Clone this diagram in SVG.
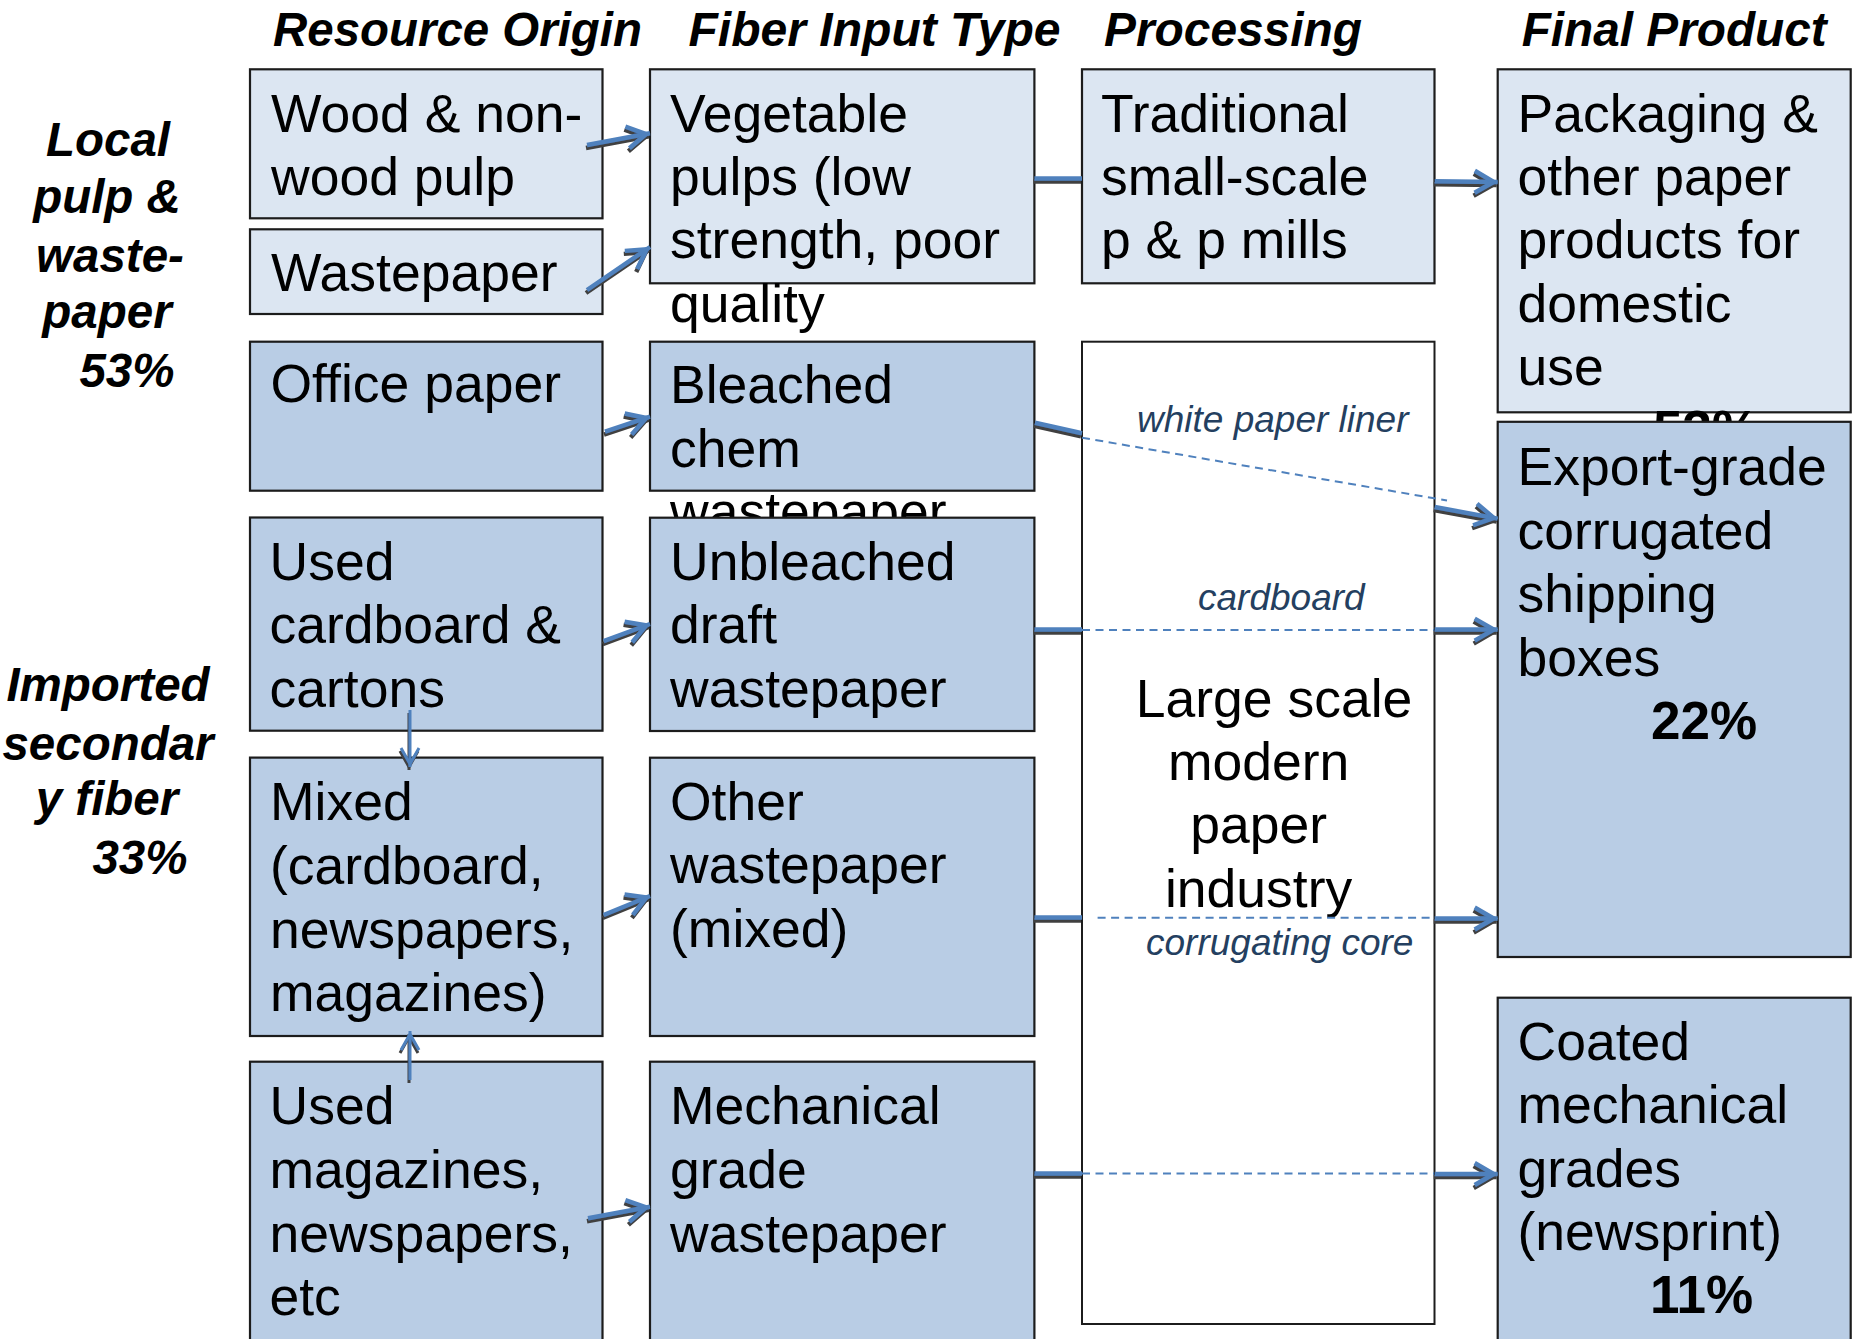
<svg xmlns="http://www.w3.org/2000/svg" width="1854" height="1339" viewBox="0 0 1854 1339">
<style>
.bl{fill:#DCE6F2;stroke:#1c1c1c;stroke-width:2.2}
.bd{fill:#B9CDE5;stroke:#1c1c1c;stroke-width:2.2}
.bw{fill:#ffffff;stroke:#1c1c1c;stroke-width:2}
text{font-family:"Liberation Sans",Arial,sans-serif;fill:#000}
.t{font-size:53.5px}
.pct{font-size:53px;font-weight:bold}
.hdr{font-size:47.5px;font-weight:bold;font-style:italic}
.side{font-size:47.5px;font-weight:bold;font-style:italic}
.lbl{font-size:37px;font-style:italic;fill:#243F60}
.c{stroke:#4F81BD;stroke-width:4.5;fill:none}
.cv{stroke:#4F81BD;stroke-width:3;fill:none}
.d{stroke:#4F81BD;stroke-width:2;stroke-dasharray:8 5.5;fill:none}
</style>
<defs>
<marker id="ah" markerUnits="userSpaceOnUse" viewBox="-30 -20 40 40" markerWidth="40" markerHeight="40" refX="0" refY="0" orient="auto" overflow="visible">
<path d="M-23,-11 L-4,0 L-23,11" fill="none" stroke="#4F81BD" stroke-width="4.5"/>
</marker>
<marker id="ahs" markerUnits="userSpaceOnUse" viewBox="-30 -20 40 40" markerWidth="40" markerHeight="40" refX="0" refY="0" orient="auto" overflow="visible">
<path d="M-19,-9 L-3,0 L-19,9" fill="none" stroke="#4F81BD" stroke-width="3"/>
</marker>
<filter id="sh" filterUnits="userSpaceOnUse" x="0" y="0" width="1854" height="1339">
<feDropShadow dx="-1" dy="3" stdDeviation="0.3" flood-color="#3F3F3F" flood-opacity="1"/>
</filter>
</defs>
<rect width="1854" height="1339" fill="#ffffff"/>

<g id="headers">
<text class="hdr" x="273" y="46" textLength="369" lengthAdjust="spacingAndGlyphs">Resource Origin</text>
<text class="hdr" x="688.5" y="46" textLength="372" lengthAdjust="spacingAndGlyphs">Fiber Input Type</text>
<text class="hdr" x="1104" y="46" textLength="258" lengthAdjust="spacingAndGlyphs">Processing</text>
<text class="hdr" x="1521.7" y="46" textLength="305" lengthAdjust="spacingAndGlyphs">Final Product</text>
</g>

<g id="side-local">
<text class="side" x="108" y="156" text-anchor="middle">Local</text>
<text class="side" x="107" y="213.3" text-anchor="middle">pulp &amp;</text>
<text class="side" x="110" y="271.7" text-anchor="middle">waste-</text>
<text class="side" x="107" y="328.3" text-anchor="middle">paper</text>
<text class="side" x="127" y="386.7" text-anchor="middle">53%</text>
</g>
<g id="side-imported">
<text class="side" x="108" y="701.4" text-anchor="middle">Imported</text>
<text class="side" x="108" y="760" text-anchor="middle">secondar</text>
<text class="side" x="107" y="815" text-anchor="middle">y fiber</text>
<text class="side" x="140" y="873.6" text-anchor="middle">33%</text>
</g>

<g id="wood">
<rect class="bl" x="250" y="69.3" width="352.5" height="149"/>
<text class="t" x="271" y="131.7">Wood &amp; non-</text>
<text class="t" x="271" y="195">wood pulp</text>
</g>
<g id="wastepaper">
<rect class="bl" x="250" y="229.3" width="352.5" height="84.7"/>
<text class="t" x="271" y="291">Wastepaper</text>
</g>
<g id="vegetable">
<rect class="bl" x="650" y="69.3" width="384.4" height="214"/>
<text class="t" x="670" y="131.7">Vegetable</text>
<text class="t" x="670" y="195">pulps (low</text>
<text class="t" x="670" y="258.3">strength, poor</text>
<text class="t" x="670" y="321.6">quality</text>
</g>
<g id="traditional">
<rect class="bl" x="1082" y="69.3" width="352.5" height="214"/>
<text class="t" x="1101" y="131.7">Traditional</text>
<text class="t" x="1101" y="195">small-scale</text>
<text class="t" x="1101" y="258.3">p &amp; p mills</text>
</g>
<g id="packaging">
<rect class="bl" x="1497.7" y="69.3" width="353" height="343"/>
<text class="t" x="1517.5" y="131.7">Packaging &amp;</text>
<text class="t" x="1517.5" y="195">other paper</text>
<text class="t" x="1517.5" y="258.3">products for</text>
<text class="t" x="1517.5" y="321.6">domestic</text>
<text class="t" x="1517.5" y="385">use</text>
<text class="pct" x="1653" y="448.3">53%</text>
</g>

<g id="office">
<rect class="bd" x="250" y="341.7" width="352.5" height="149"/>
<text class="t" x="270.5" y="401.7">Office paper</text>
</g>
<g id="bleached">
<rect class="bd" x="650" y="341.7" width="384.4" height="149"/>
<text class="t" x="670" y="403.3">Bleached</text>
<text class="t" x="670" y="466.7">chem</text>
<text class="t" x="670" y="530">wastepaper</text>
</g>
<g id="large-scale">
<rect class="bw" x="1082" y="341.7" width="352.5" height="982.3"/>
<text class="t" x="1274" y="716.7" text-anchor="middle">Large scale</text>
<text class="t" x="1258.6" y="780" text-anchor="middle">modern</text>
<text class="t" x="1258.6" y="843.3" text-anchor="middle">paper</text>
<text class="t" x="1258.6" y="906.7" text-anchor="middle">industry</text>
</g>
<g id="export">
<rect class="bd" x="1497.7" y="421.8" width="353" height="535.2"/>
<text class="t" x="1517.5" y="485">Export-grade</text>
<text class="t" x="1517.5" y="548.5">corrugated</text>
<text class="t" x="1517.5" y="612">shipping</text>
<text class="t" x="1517.5" y="675.5">boxes</text>
<text class="pct" x="1651" y="739">22%</text>
</g>

<g id="used-cardboard">
<rect class="bd" x="250" y="517.5" width="352.5" height="213.2"/>
<text class="t" x="269.5" y="580">Used</text>
<text class="t" x="269.5" y="643">cardboard &amp;</text>
<text class="t" x="269.5" y="706.6">cartons</text>
</g>
<g id="unbleached">
<rect class="bd" x="650" y="517.7" width="384.4" height="213.3"/>
<text class="t" x="670" y="580">Unbleached</text>
<text class="t" x="670" y="643.3">draft</text>
<text class="t" x="670" y="706.7">wastepaper</text>
</g>

<g id="mixed">
<rect class="bd" x="250" y="757.6" width="352.5" height="278.4"/>
<text class="t" x="270" y="820.2">Mixed</text>
<text class="t" x="270" y="884">(cardboard,</text>
<text class="t" x="270" y="947.7">newspapers,</text>
<text class="t" x="270" y="1011.4">magazines)</text>
</g>
<g id="other">
<rect class="bd" x="650" y="757.7" width="384.4" height="278.3"/>
<text class="t" x="670" y="820">Other</text>
<text class="t" x="670" y="883.3">wastepaper</text>
<text class="t" x="670" y="946.7">(mixed)</text>
</g>

<g id="used-magazines">
<rect class="bd" x="250" y="1061.7" width="352.5" height="290"/>
<text class="t" x="269.5" y="1124">Used</text>
<text class="t" x="269.5" y="1188.3">magazines,</text>
<text class="t" x="269.5" y="1251.7">newspapers,</text>
<text class="t" x="269.5" y="1315">etc</text>
</g>
<g id="mechanical">
<rect class="bd" x="650" y="1061.7" width="384.4" height="290"/>
<text class="t" x="670" y="1124">Mechanical</text>
<text class="t" x="670" y="1188.3">grade</text>
<text class="t" x="670" y="1251.7">wastepaper</text>
</g>
<g id="coated">
<rect class="bd" x="1497.7" y="997.7" width="353" height="354"/>
<text class="t" x="1517.5" y="1060">Coated</text>
<text class="t" x="1517.5" y="1123.3">mechanical</text>
<text class="t" x="1517.5" y="1186.7">grades</text>
<text class="t" x="1517.5" y="1250">(newsprint)</text>
<text class="pct" x="1650" y="1313.3">11%</text>
</g>

<g id="connectors">
<g id="dashed">
<path class="d" d="M1082,437.7 L1447,500.5"/>
<path class="d" d="M1082,630 L1434,630"/>
<path class="d" d="M1097.6,917.7 L1434,917.7"/>
<path class="d" d="M1082,1173.5 L1434,1173.5"/>
</g>
<g id="solid" filter="url(#sh)">
<path class="c" d="M587,145 L650,133.3" marker-end="url(#ah)"/>
<path class="c" d="M587,290 L650,247" marker-end="url(#ah)"/>
<path class="c" d="M605,431.7 L650,416.7" marker-end="url(#ah)"/>
<path class="c" d="M603.6,641.2 L650,624" marker-end="url(#ah)"/>
<path class="c" d="M603.6,915 L650,896" marker-end="url(#ah)"/>
<path class="c" d="M588,1218.3 L650,1206.7" marker-end="url(#ah)"/>
<path class="cv" d="M410,710 L410,767" marker-end="url(#ahs)"/>
<path class="cv" d="M410,1080 L410,1031" marker-end="url(#ahs)"/>
<path class="c" d="M1034.4,178.5 L1082,178.5"/>
<path class="c" d="M1434.7,181.3 L1497.7,182" marker-end="url(#ah)"/>
<path class="c" d="M1035,422.7 L1082,433.3"/>
<path class="c" d="M1434.7,507 L1497.7,518.6" marker-end="url(#ah)"/>
<path class="c" d="M1034.4,629.5 L1082,629.5"/>
<path class="c" d="M1434.7,629.6 L1497.7,629.6" marker-end="url(#ah)"/>
<path class="c" d="M1034.4,917.5 L1082,917.5"/>
<path class="c" d="M1434.7,918.5 L1497.7,918.5" marker-end="url(#ah)"/>
<path class="c" d="M1034.4,1173.5 L1082,1173.5"/>
<path class="c" d="M1434.7,1174 L1497.7,1174" marker-end="url(#ah)"/>
</g>
</g>

<g id="labels">
<text class="lbl" x="1137" y="432">white paper liner</text>
<text class="lbl" x="1198" y="610">cardboard</text>
<text class="lbl" x="1146" y="955">corrugating core</text>
</g>
</svg>
